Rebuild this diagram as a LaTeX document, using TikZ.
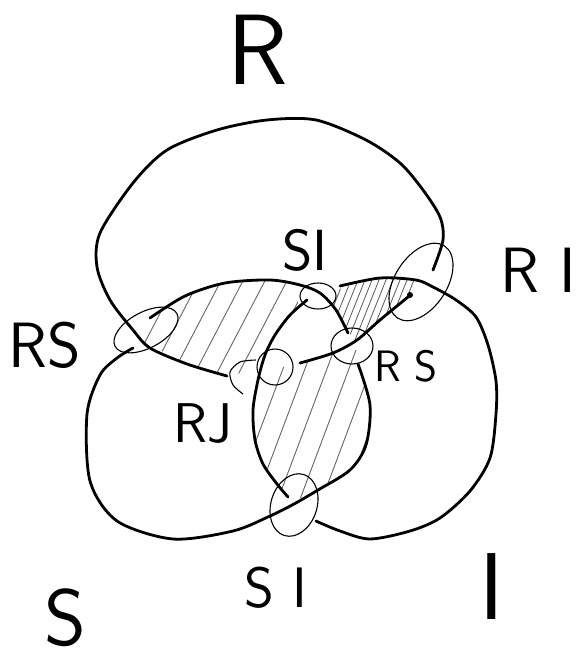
\documentclass[tikz,border=0pt]{standalone}
\usepackage{fontspec}
\usepackage{tikz}
\usetikzlibrary{shapes.geometric}

\tikzset{
    strand/.style={line width=2.8pt, line cap=round, line join=round},
    ring/.style={draw, ellipse, line width=1.1pt, inner sep=0pt},
    hatch/.style={black!60, line width=0.9pt},
    lbl/.style={font=\sffamily\fontsize{#1}{#1}\selectfont, inner sep=0pt},
}

\begin{document}
\begin{tikzpicture}[x=1pt, y=-1pt]
    \useasboundingbox (0,0) rectangle (583,671);

    % Hatched overlaps
    \begin{scope}
        \clip (150,318) -- (185,296) -- (225,283) -- (270,280) -- (300,285) -- (297,310) -- (280,327) -- (267,347) -- (262,368) -- (227,376) -- (187,364) -- (140,340) -- cycle; % R and S
        \foreach \x in {120,142,...,320} \draw[hatch] (\x,390) -- ++(60,-115);
    \end{scope}
    \begin{scope}
        \clip (337,290) -- (366,279) -- (400,279) -- (418,281) -- (410,297) -- (380,320) -- (355,342) -- (345,325) -- (333,305) -- cycle; % R and I
        \foreach \x in {316,323,...,420} \draw[hatch] (\x,350) -- ++(30,-75);
    \end{scope}
    \begin{scope}
        \clip (262,372) -- (300,363) -- (330,355) -- (356,345) -- (362,370) -- (370,405) -- (366,445) -- (350,470) -- (318,490) -- (290,503) -- (280,487) -- (263,464) -- (253,431) -- (253,398) -- cycle; % S and I
        \foreach \x in {230,252,...,380} \draw[hatch] (\x,510) -- ++(60,-160);
    \end{scope}

    % Strand R
    \draw[strand] plot[smooth] coordinates {(433,270) (443,240) (440,217) (423,190) (400,163) (366,140) (316,120) (267,120) (217,130) (167,150) (133,183) (100,233) (97,267) (110,300) (133,330) (150,348) (187,364) (227,376)};
    \draw[strand] plot[smooth] coordinates {(300,363) (333,353) (357,340) (380,320) (408,297)};
    \fill (410,295) circle[radius=3pt];

    % Strand S
    \draw[strand] plot[smooth] coordinates {(150,318) (185,296) (225,283) (270,280) (300,285) (320,293) (336,310) (348,333)};
    \draw[strand] plot[smooth] coordinates {(358,364) (370,405) (366,445) (350,470) (318,490) (294,504) (270,516) (233,531) (173,539) (117,521) (90,481) (87,414) (100,375) (117,358) (133,348)};

    % Strand I
    \draw[strand] plot[smooth] coordinates {(307,300) (290,315) (275,335) (265,355) (258,380) (253,410) (255,440) (263,464) (277,484) (288,497)};
    \draw[strand] plot[smooth] coordinates {(316,521) (340,531) (370,539) (410,531) (440,518) (470,491) (490,458) (496,414) (496,381) (488,345) (476,317) (456,300) (433,287) (416,280) (380,278) (340,286)};

    % Crossing marks
    \node[ring, minimum width=70pt, minimum height=36pt, rotate=28] (rsL) at (146,330) {};
    \node[ring, minimum width=36pt, minimum height=26pt] (siT) at (318,296) {};
    \node[ring, minimum width=86pt, minimum height=52pt, rotate=57] (riC) at (421,282) {};
    \node[ring, minimum width=42pt, minimum height=36pt] (rsR) at (352,346) {};
    \node[ring, minimum width=36pt, minimum height=36pt] (rjC) at (275,367) {};
    \draw[line width=1.1pt] plot[smooth] coordinates {(256,360) (240,362) (230,372) (233,385) (243,394)};
    \node[ring, minimum width=64pt, minimum height=46pt, rotate=72] (siB) at (294,505) {};

    % Labels
    \node[lbl=100] (labR) at (258,50) {R};
    \node[lbl=80] (labS) at (65,618) {S};
    \node[lbl=95] (labI) at (492,587) {I};
    \node[lbl=64] (labRSl) at (45,345) {RS};
    \node[lbl=58] (labSIt) at (305,250) {SI};
    \node[lbl=64] (labRI) at (538,270) {R I};
    \node[lbl=44] (labRSr) at (406,366) {R S};
    \node[lbl=56] (labRJ) at (203,424) {RJ};
    \node[lbl=57] (labSIb) at (276,588) {S I};
\end{tikzpicture}
\end{document}
